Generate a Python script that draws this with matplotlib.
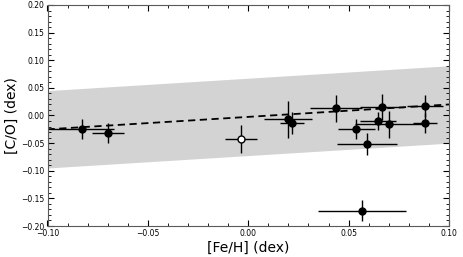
import matplotlib
matplotlib.use('Agg')
import matplotlib.pyplot as plt
import numpy as np
from matplotlib.ticker import MultipleLocator

# star measurements: [Fe/H], [C/O] and their errors
feh = [-0.0828, -0.0698, 0.0196, 0.0218, 0.0439, 0.0668, 0.0881,
       0.0648, 0.0700, 0.0539, 0.0590, 0.0881, 0.0568]
feh_err = [0.016, 0.008, 0.012, 0.006, 0.013, 0.011, 0.009,
           0.009, 0.017, 0.009, 0.015, 0.006, 0.022]
co = [-0.024, -0.031, -0.007, -0.013, 0.013, 0.015, 0.018,
      -0.010, -0.016, -0.024, -0.051, -0.013, -0.172]
co_err = [0.018, 0.018, 0.033, 0.020, 0.025, 0.024, 0.020,
          0.017, 0.024, 0.018, 0.020, 0.018, 0.019]

# the odd one out (open symbol)
feh_open = [-0.0035]
feh_open_err = [0.008]
co_open = [-0.042]
co_open_err = [0.025]

# linear trend and its scatter band
fit_slope = 0.225
fit_icpt = -0.0025
band_width = 0.07

fig = plt.figure(figsize=(4.63, 2.57), dpi=100)
ax = fig.add_axes([47.5/463, 1 - 226/257, (449 - 47.5)/463, (226 - 5)/257])

xx = np.array([-0.10, 0.10])
yy = fit_icpt + fit_slope*xx
ax.fill_between(xx, yy - band_width, yy + band_width, color='#d3d3d3', lw=0, zorder=0)
ax.plot(xx, yy, 'k--', lw=1.3, dashes=(4, 2.5), zorder=2)

ax.errorbar(feh, co, xerr=feh_err, yerr=co_err, fmt='o', color='k', ms=5,
            ecolor='k', elinewidth=1, capsize=0, zorder=3)
ax.errorbar(feh_open, co_open, xerr=feh_open_err, yerr=co_open_err, fmt='o',
            mfc='white', mec='k', ms=5, ecolor='k', elinewidth=1, capsize=0, zorder=3)

ax.set_xlim(-0.10, 0.10)
ax.set_ylim(-0.20, 0.20)
ax.xaxis.set_major_locator(MultipleLocator(0.05))
ax.xaxis.set_minor_locator(MultipleLocator(0.01))
ax.yaxis.set_major_locator(MultipleLocator(0.05))
ax.yaxis.set_minor_locator(MultipleLocator(0.01))
ax.tick_params(which='both', direction='in', top=True, right=True, labelsize=5.5, pad=2)
ax.tick_params(which='major', length=4)
ax.tick_params(which='minor', length=2)
for s in ax.spines.values():
    s.set_color('0.35')
ax.set_xlabel('[Fe/H] (dex)', fontsize=10, labelpad=2)
ax.set_ylabel('[C/O] (dex)', fontsize=10, labelpad=2)

plt.savefig('out.png', dpi=100)
